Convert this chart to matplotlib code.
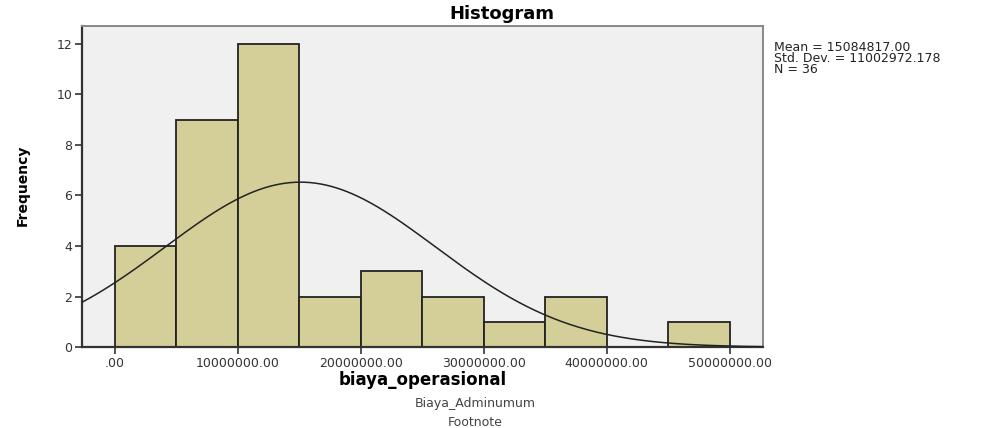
import matplotlib
matplotlib.use("Agg")
import matplotlib.pyplot as plt
import numpy as np

# histogram data (bin width 5,000,000)
bin_left = [0, 5e6, 10e6, 15e6, 20e6, 25e6, 30e6, 35e6, 40e6, 45e6]
counts = [4, 9, 12, 2, 3, 2, 1, 2, 0, 1]
bin_width = 5e6

mean = 15084817.00
std_dev = 11002972.178
n_cases = 36

x_ticks = [0, 10e6, 20e6, 30e6, 40e6, 50e6]
x_tick_labels = [".00", "10000000.00", "20000000.00", "30000000.00",
                 "40000000.00", "50000000.00"]
y_ticks = [0, 2, 4, 6, 8, 10, 12]

bar_color = "#d4cf98"
face_color = "#f0f0f0"

plt.rcParams["font.family"] = ["DejaVu Sans"]

fig = plt.figure(figsize=(9.84, 4.28), dpi=100)
ax = fig.add_axes([0.0833, 0.189, 0.692, 0.750])
ax.set_facecolor(face_color)

ax.bar(bin_left, counts, width=bin_width, align="edge",
       color=bar_color, edgecolor="#222222", linewidth=1.3, zorder=2)

# normal curve scaled to the histogram
xs = np.linspace(-2.7e6, 52.7e6, 400)
pdf = np.exp(-0.5 * ((xs - mean) / std_dev) ** 2) / (std_dev * np.sqrt(2 * np.pi))
ax.plot(xs, pdf * n_cases * bin_width, color="#222222", linewidth=1.1, zorder=3)

ax.set_xlim(-2.68e6, 52.7e6)
ax.set_ylim(0, 12.7)

ax.set_xticks(x_ticks)
ax.set_xticklabels(x_tick_labels)
ax.set_yticks(y_ticks)
ax.tick_params(axis="both", labelsize=9, labelcolor="#333333",
               length=5, width=1.2, color="#333333", pad=2)

for side in ["left", "bottom"]:
    ax.spines[side].set_color("#333333")
    ax.spines[side].set_linewidth(1.6)
for side in ["top", "right"]:
    ax.spines[side].set_color("#888888")
    ax.spines[side].set_linewidth(1.4)

fig.text(0.510, 0.967, "Histogram", ha="center", va="center",
         fontsize=13, fontweight="bold")

fig.text(0.023, 0.568, "Frequency", rotation=90, ha="center", va="center",
         fontsize=10, fontweight="bold")

fig.text(0.430, 0.112, "biaya_operasional", ha="center", va="center",
         fontsize=12, fontweight="bold")

fig.text(0.483, 0.058, "Biaya_Adminumum", ha="center", va="center",
         fontsize=9, color="#444444")
fig.text(0.483, 0.013, "Footnote", ha="center", va="center",
         fontsize=9, color="#444444")

stats = (f"Mean = {mean:.2f}\n"
         f"Std. Dev. = {std_dev:.3f}\n"
         f"N = {n_cases}")
fig.text(0.787, 0.905, stats, ha="left", va="top",
         fontsize=9, linespacing=0.8, color="#222222")

fig.savefig("out.png", dpi=100)
